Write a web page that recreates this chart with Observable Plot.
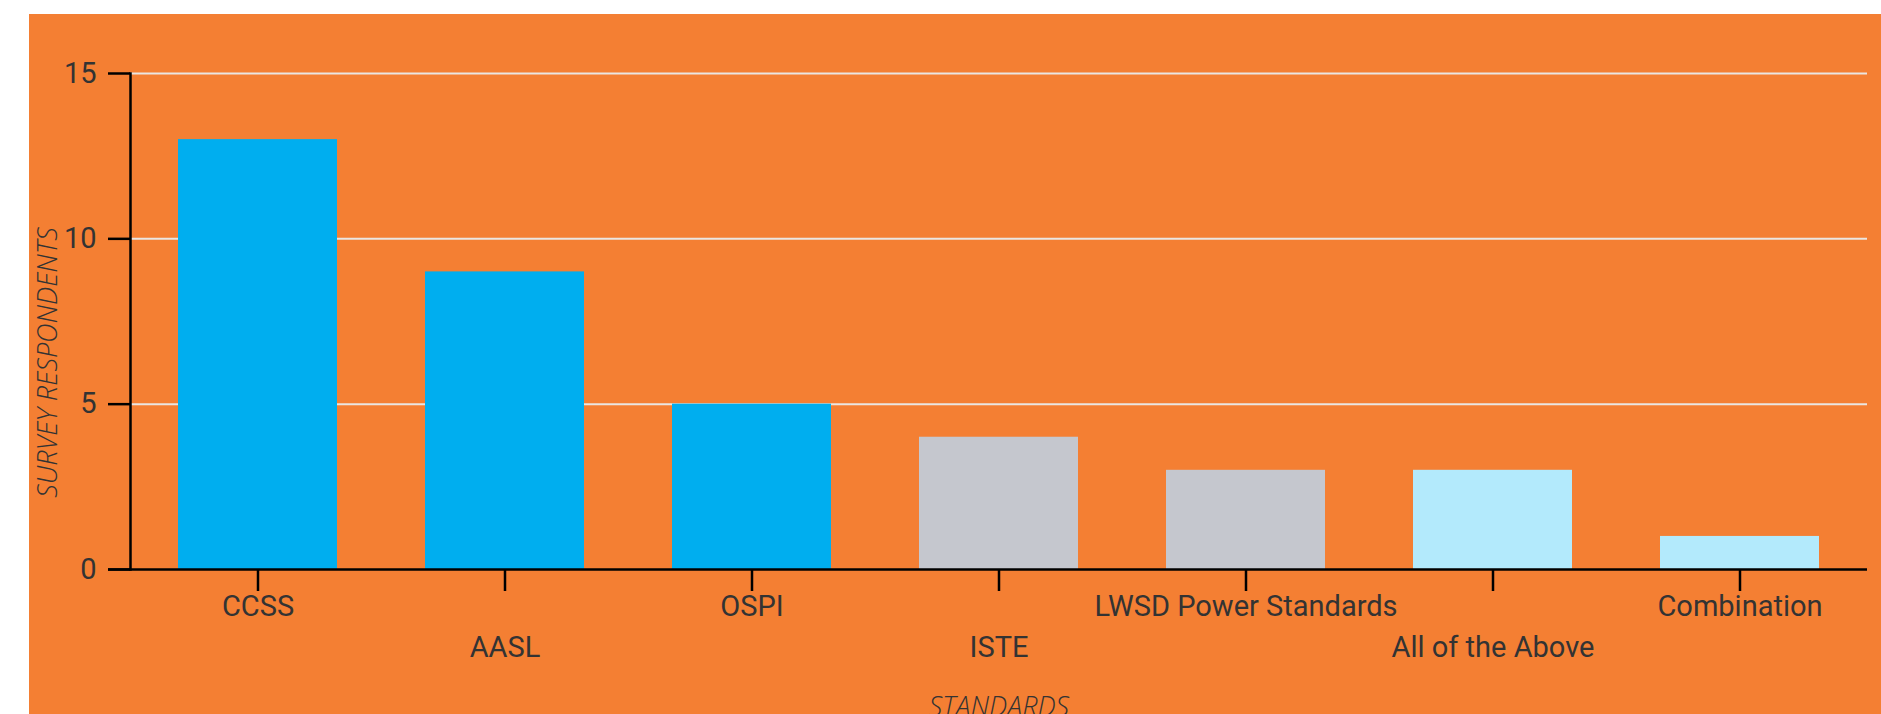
<!DOCTYPE html>
<html>
<head>
<meta charset="utf-8">
<script src="https://cdn.jsdelivr.net/npm/d3@7"></script>
<script src="https://cdn.jsdelivr.net/npm/@observablehq/plot@0.6"></script>
<style>
  html, body { margin: 0; padding: 0; background: #ffffff; }
  #wrap { position: absolute; left: 29px; top: 14px; width: 1852px; height: 700px; background: #F47F33; overflow: hidden; }
  #wrap svg { background: transparent; display: block; }
</style>
</head>
<body>
<div id="wrap"></div>
<script>
const categories = ["CCSS", "AASL", "OSPI", "ISTE", "LWSD Power Standards", "All of the Above", "Combination"];
const respondents = [13, 9, 5, 4, 3, 3, 1];
const yTicks = [0, 5, 10, 15];
const yTitle = "SURVEY RESPONDENTS";
const xTitle = "STANDARDS";

const barColors = ["#00AEEF", "#00AEEF", "#00AEEF", "#C5C7CE", "#C5C7CE", "#B3EAFC", "#B3EAFC"];
const data = categories.map((c, i) => ({category: c, value: respondents[i], color: barColors[i]}));
const rowA = categories.filter((c, i) => i % 2 === 0);
const rowB = categories.filter((c, i) => i % 2 === 1);

const textColor = "#333333";
const titleStyle = {fontSize: 27, fontStyle: "italic", fontWeight: 300, fontFamily: "Open Sans", fill: textColor, textAnchor: "middle"};
const chart = Plot.plot({
  width: 1852,
  height: 700,
  marginLeft: 101,
  marginRight: 14,
  marginTop: 59,
  marginBottom: 145,
  style: {background: "transparent", fontFamily: "Roboto, sans-serif", color: textColor},
  x: {domain: categories, paddingInner: 0.355, paddingOuter: 0.18},
  y: {domain: [0, 15]},
  marks: [
    Plot.gridY([5, 10, 15], {stroke: "#EAE6E2", strokeOpacity: 1, strokeWidth: 2}),
    Plot.barY(data, {x: "category", y: "value", fill: "color"}),
    Plot.ruleY([0], {stroke: "#000", strokeWidth: 2.5, insetLeft: -22}),
    Plot.frame({anchor: "left", stroke: "#000", strokeWidth: 2.5}),
    Plot.axisY(yTicks, {tickSize: 22, tickPadding: 12, stroke: "#000", strokeWidth: 2.5, fontSize: 29, fill: textColor, label: null}),
    Plot.axisX(categories, {tickSize: 22, stroke: "#000", strokeWidth: 2.5, tickFormat: () => "", label: null}),
    Plot.axisX(rowA, {tickSize: 0, tickPadding: 26, fontSize: 29, fill: textColor, label: null}),
    Plot.axisX(rowB, {tickSize: 0, tickPadding: 67, fontSize: 29, fill: textColor, label: null}),
    Plot.text([yTitle], {frameAnchor: "left", rotate: -90, lineAnchor: "top", dx: -93, dy: 41, ...titleStyle}),
    Plot.text([xTitle], {frameAnchor: "bottom", lineAnchor: "top", dy: 127, ...titleStyle})
  ]
});
document.getElementById("wrap").appendChild(chart);
</script>
</body>
</html>
